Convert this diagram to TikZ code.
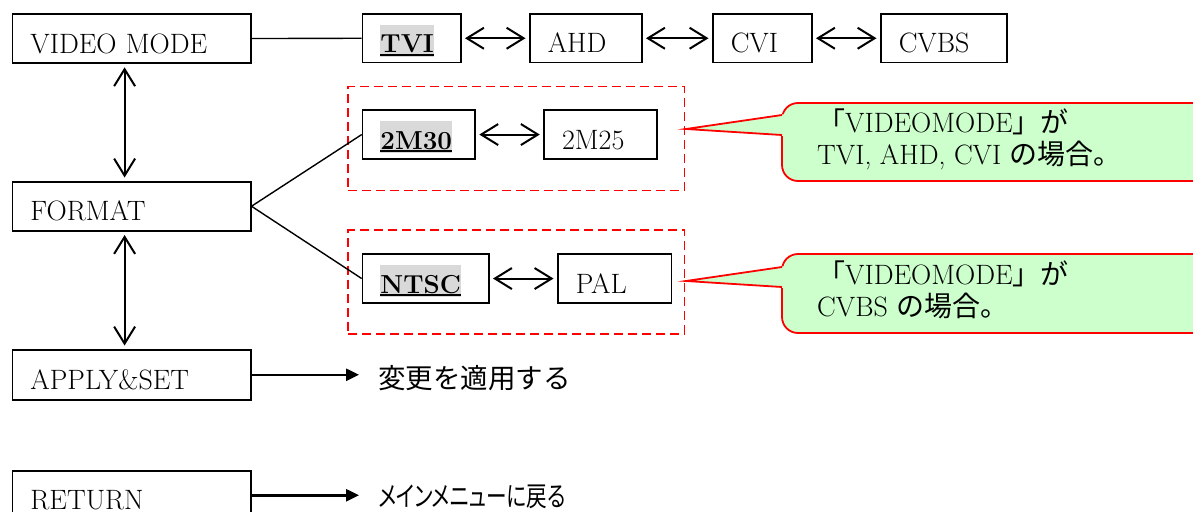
\documentclass[tikz,border=0pt]{standalone}
\usepackage{fontspec}
\newfontfamily\cjk{Noto Sans CJK JP}
\newfontfamily\cjkp[RawFeature=+palt]{Noto Sans CJK JP}
\usetikzlibrary{arrows.meta}
\definecolor{hlgray}{HTML}{D9D9D9}
\definecolor{callfill}{HTML}{CCFFCC}
\definecolor{callred}{HTML}{FF0000}
\newcommand\hlfont{\fontsize{26}{30}\selectfont\bfseries}
\newcommand\hlt[1]{{\hlfont\setlength{\fboxsep}{0pt}\setbox0\hbox{#1}\colorbox{hlgray}{\rule[-4pt]{0pt}{32pt}\rlap{\rule[-2.8pt]{\wd0}{1.8pt}}\box0}}}
\begin{document}
\begin{tikzpicture}[x=1pt,y=-1pt,
  every node/.style={font=\fontsize{28}{32}\selectfont},
  bx/.style={draw, line width=1.5pt, anchor=north west, inner xsep=18pt, inner ysep=0pt,
    text height=30pt, text depth=1pt, align=left, minimum height=49pt},
  dbl/.style={{Straight Barb[length=17pt,width=21pt]}-{Straight Barb[length=17pt,width=21pt]},
    line width=2pt, shorten <=3.5pt, shorten >=3.5pt},
  fwd/.style={-{Triangle[length=13pt,width=12pt]}, line width=2.5pt},
  conn/.style={line width=1.4pt},
  redbox/.style={draw=red, line width=1.9pt, dash pattern=on 9pt off 5pt, anchor=north west,
    inner sep=0pt, minimum width=336.2pt, minimum height=104pt},
  callbody/.style={fill=callfill, draw=callred, line width=1.8pt, rounded corners=16pt},
  calltail/.style={draw=callred, line width=1.8pt, line join=miter},
  calltext/.style={anchor=base west, inner sep=0pt, align=left, font=\fontsize{28}{31.5}\selectfont},
  jtext/.style={anchor=west, inner sep=0pt}
]
\useasboundingbox (0,0) rectangle (1193,511);
\fill[white] (0,0) rectangle (1193,511);

% callout 1
\draw[callbody] (782,103) rectangle (1235,181);
\fill[callfill] (686,129) -- (785.5,114) -- (785.5,136) -- cycle;
\draw[calltail] (782,115) -- (686,129) -- (782,135);

% callout 2
\draw[callbody] (782,254) rectangle (1235,333);
\fill[callfill] (686,281) -- (785.5,266) -- (785.5,288) -- cycle;
\draw[calltail] (782,267) -- (686,281) -- (782,287);

% dashed groups
\node[redbox] (g1) at (347.3,85.5) {};
\node[redbox] (g2) at (347.3,229) {};

% left column
\node[bx, text width=202.3pt] (vm)  at (11.7,13.3) {VIDEO MODE};
\node[bx, text width=202.3pt] (fmt) at (11.7,181)  {FORMAT};
\node[bx, text width=202.3pt, minimum height=50pt] (app) at (11.7,349) {APPLY\&SET};
\node[bx, text width=202.3pt] (ret) at (11.7,470)  {RETURN};

% video modes
\node[bx, text width=62.3pt, minimum height=48.4pt] (tvi)  at (361.7,13.3) {\hlt{TVI}};
\node[bx, text width=76pt,   minimum height=48.4pt] (ahd)  at (529,13.3)   {AHD};
\node[bx, text width=63pt,   minimum height=48.4pt] (cvi)  at (712,13.3)   {CVI};
\node[bx, text width=90pt,   minimum height=48.4pt] (cvbs) at (880,13.3)   {CVBS};

% formats
\node[bx, text width=76.6pt] (m30)  at (361.7,109.3) {\hlt{2M30}};
\node[bx, text width=76.7pt] (m25)  at (543.3,109.3) {2M25};
\node[bx, text width=90.3pt] (ntsc) at (361.7,253.3) {\hlt{NTSC}};
\node[bx, text width=77.5pt] (pal)  at (557,253.3)   {PAL};

% callout texts
\node[calltext] (c1) at (817,164) {{\cjk 「}VIDEOMODE{\cjk 」が}\\TVI, AHD, CVI {\cjk の場合。}};
\node[calltext] (c2) at (817,316) {{\cjk 「}VIDEOMODE{\cjk 」が}\\CVBS {\cjk の場合。}};

% connectors
\draw[conn] (vm.east) -- (tvi.west);
\draw[dbl] (tvi) -- (ahd);
\draw[dbl] (ahd) -- (cvi);
\draw[dbl] (cvi) -- (cvbs);
\draw[dbl] (m30) -- (m25);
\draw[dbl] (ntsc) -- (pal);
\draw[dbl] ([xshift=-7pt]vm.south) -- ([xshift=-7pt]fmt.north);
\draw[dbl] ([xshift=-7pt]fmt.south) -- ([xshift=-7pt]app.north);
\draw[conn] (fmt.east) -- (m30.west);
\draw[conn] (fmt.east) -- (ntsc.west);

% result texts
\node[jtext, font=\cjk\fontsize{27.5}{32}\selectfont] (apt) at (378,378.5) {変更を適用する};
\node[jtext, font=\cjkp\fontsize{27.5}{32}\selectfont] (rtt) at (378,497) {\scalebox{0.75}[1]{メインメニューに戻る}};
\draw[fwd, shorten >=19pt] (app.east) -- (app.east -| apt.west);
\draw[fwd, shorten >=19pt] (ret.east) -- (ret.east -| rtt.west);
\end{tikzpicture}
\end{document}
